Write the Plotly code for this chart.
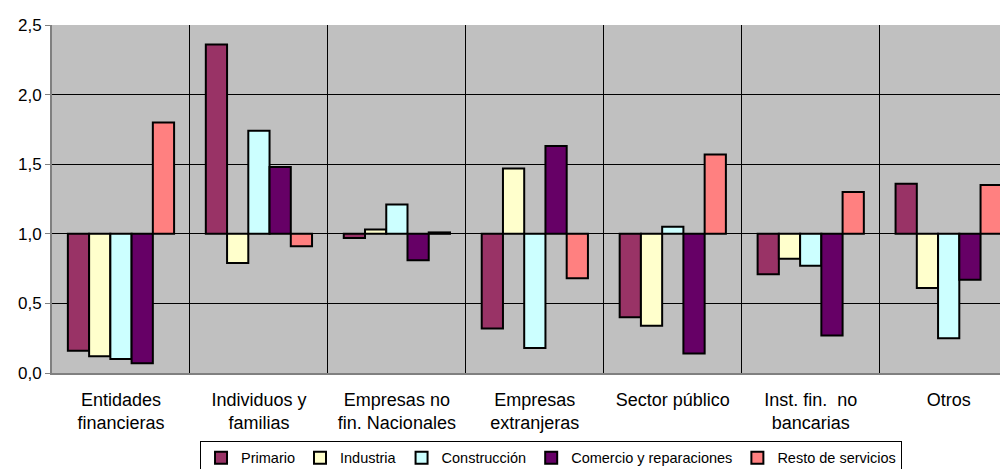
import plotly.graph_objects as go

# Sectores de contrapartida (categorías del eje X)
categorias = [
    "Entidades<br>financieras",
    "Individuos y<br>familias",
    "Empresas no<br>fin. Nacionales",
    "Empresas<br>extranjeras",
    "Sector público",
    "Inst. fin.  no<br>bancarias",
    "Otros",
]

# Valores de cada serie (índice, base 1,0)
primario = [0.16, 2.36, 0.97, 0.32, 0.40, 0.71, 1.36]
industria = [0.12, 0.79, 1.03, 1.47, 0.34, 0.82, 0.61]
construccion = [0.10, 1.74, 1.21, 0.18, 1.05, 0.77, 0.25]
comercio = [0.07, 1.48, 0.81, 1.63, 0.14, 0.27, 0.67]
resto = [1.80, 0.91, 1.01, 0.68, 1.57, 1.30, 1.35]

series = [
    ("Primario", primario, "#993366"),
    ("Industria", industria, "#FFFFCC"),
    ("Construcción", construccion, "#CCFFFF"),
    ("Comercio y reparaciones", comercio, "#660066"),
    ("Resto de servicios", resto, "#FF8080"),
]

base = 1.0

fig = go.Figure()

for nombre, valores, color in series:
    fig.add_trace(go.Bar(
        x=categorias,
        y=[v - base for v in valores],
        base=base,
        name=nombre,
        marker=dict(color=color, line=dict(color="black", width=2)),
    ))

# la página html añade 8px de margen al body, así que la figura es 8px menor
fig.update_layout(
    width=1000,
    height=461,
    margin=dict(l=44, r=0, t=17, b=96, autoexpand=False),
    barmode="group",
    bargap=0.23,
    bargroupgap=0,
    plot_bgcolor="#C0C0C0",
    paper_bgcolor="white",
    separators=", ",
    font=dict(family="Liberation Sans, Arial", size=16, color="black"),
    showlegend=True,
    legend=dict(
        orientation="h",
        x=0.522,
        xanchor="center",
        y=-0.195,
        yanchor="top",
        bgcolor="white",
        bordercolor="black",
        borderwidth=1,
        font=dict(size=14.5),
        itemwidth=30,
    ),
    xaxis=dict(
        type="category",
        range=[-0.5, 6.43],
        tickson="boundaries",
        showgrid=True,
        gridcolor="black",
        gridwidth=1,
        showline=True,
        linecolor="#808080",
        linewidth=2,
        mirror=False,
        ticks="",
        ticklabelstandoff=9,
        tickfont=dict(size=18),
        automargin=False,
    ),
    yaxis=dict(
        range=[0, 2.5],
        dtick=0.5,
        tickformat=".1f",
        showgrid=True,
        gridcolor="black",
        gridwidth=1,
        zeroline=False,
        showline=True,
        linecolor="#808080",
        linewidth=2,
        ticks="outside",
        ticklen=5,
        tickcolor="#808080",
        tickfont=dict(size=17),
        automargin=False,
    ),
)

fig.write_html("out.html")
